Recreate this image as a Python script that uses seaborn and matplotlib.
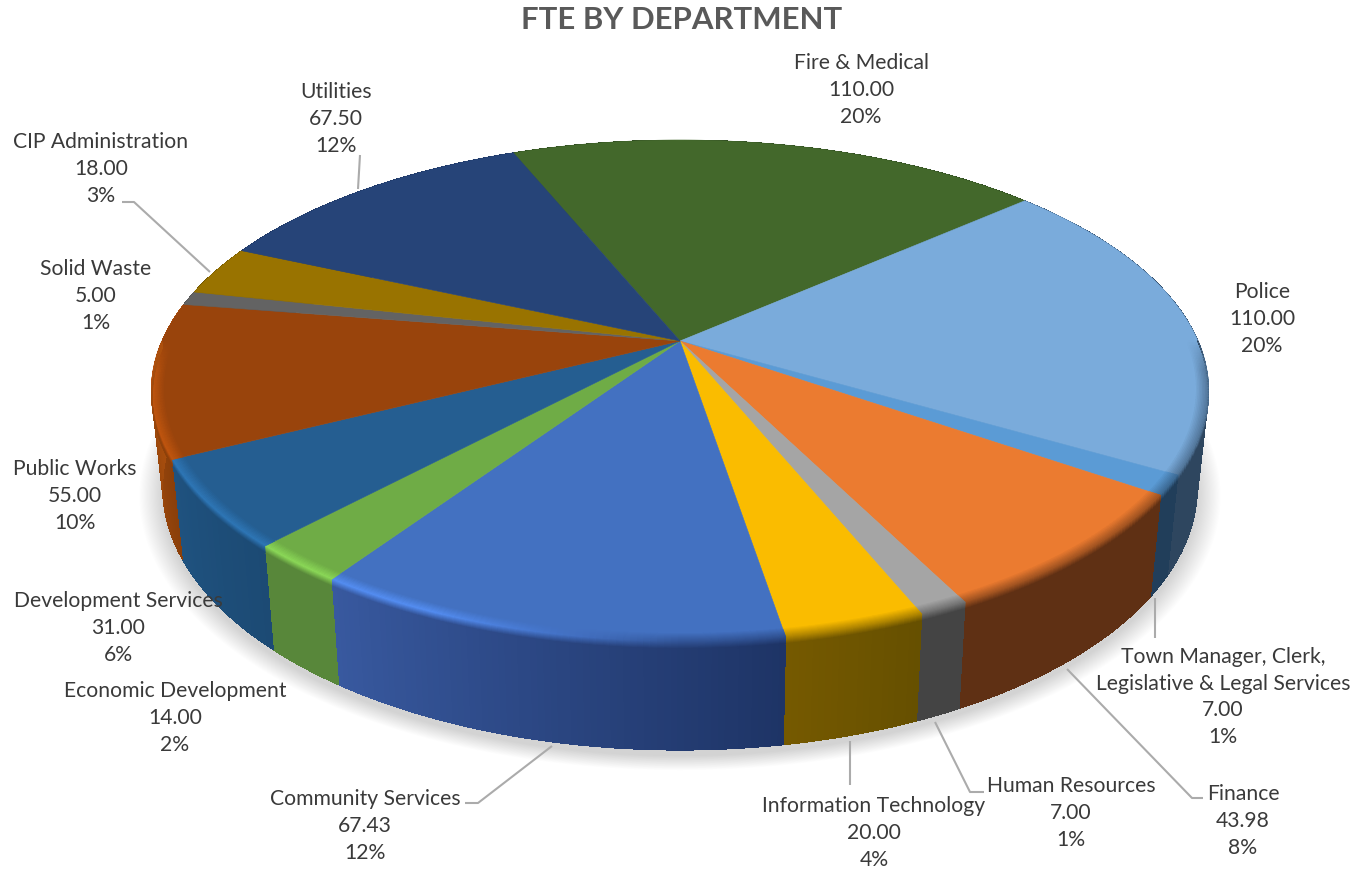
import numpy as np
import matplotlib
matplotlib.use("Agg")
import matplotlib.pyplot as plt
from matplotlib.collections import PolyCollection
import seaborn as sns

# ---------- data ----------
departments = ["Fire & Medical", "Police", "Town Manager, Clerk,\nLegislative & Legal Services",
               "Finance", "Human Resources", "Information Technology", "Community Services",
               "Economic Development", "Development Services", "Public Works", "Solid Waste",
               "CIP Administration", "Utilities"]
fte = [110.00, 110.00, 7.00, 43.98, 7.00, 20.00, 67.43, 14.00, 31.00, 55.00, 5.00, 18.00, 67.50]
percent = ["20%", "20%", "1%", "8%", "1%", "4%", "12%", "2%", "6%", "10%", "1%", "3%", "12%"]

# ---------- styles ----------
top_colors = ["#43682B", "#7AABDB", "#5B9BD5", "#EB7B30", "#A5A5A5", "#FABC00", "#4371C1",
              "#6FAC46", "#255E91", "#99440C", "#636363", "#997300", "#264478"]
wall_start = ["#2A4220", "#2E465F", "#213E5A", "#5F3014", "#444444", "#665000", "#1E3466",
              "#58873A", "#1C4A74", "#8A3F0A", "#555555", "#6E5500", "#1E3560"]
wall_end = ["#2A4220", "#2E465F", "#213E5A", "#5F3014", "#444444", "#755900", "#38599F",
            "#58873A", "#1F527F", "#B8560F", "#555555", "#6E5500", "#1E3560"]
label_pos = [(861, 90), (1262, 319), (1223, 697), (1243, 821), (1071, 813), (874, 833),
             (365, 826), (175, 718), (118, 628), (75, 496), (96, 296), (101, 169), (336, 119)]
leaders = [[(360, 155), (358, 189)],
           [(122, 202), (134, 202), (210, 272)],
           [(1155, 598), (1155, 638)],
           [(1067, 669), (1192, 798), (1203, 798)],
           [(935, 722), (970, 792), (984, 792)],
           [(850, 741), (850, 785)],
           [(552, 746), (478, 803), (465, 803)]]
START = -22.4       # first slice, degrees clockwise from 12 o'clock
CX, K = 680.0, 0.199
R_TOP, CY_TOP, H_TOP = 518.0, 341.0, 241.0
R_BOT, CY_BOT, H_BOT = 507.0, 435.5, 252.0

sns.set_theme(style="white")
plt.rcParams["font.family"] = ["Lato", "DejaVu Sans"]

fig = plt.figure(figsize=(13.65, 8.71), dpi=100, facecolor="white")
ax = fig.add_axes([0, 0, 1, 1])
ax.set_xlim(0, 1365)
ax.set_ylim(871, 0)
ax.axis("off")


def project(theta, r=1.0, R=R_TOP, cy=CY_TOP, H=H_TOP):
    """Perspective view of a point on the disc; theta in degrees clockwise from top."""
    t = np.radians(theta)
    u, v = r * np.sin(t), -r * np.cos(t)
    d = 1 - K * v
    return np.column_stack([CX + R * u / d, cy + H * v / d])


def to_rgb(c):
    return np.array(matplotlib.colors.to_rgb(c))


shares = np.array(fte) / np.sum(fte) * 360
edges = START + np.concatenate([[0], np.cumsum(shares)])

# soft shadow under the pie
circle = np.linspace(0, 360, 361)
for s in np.linspace(1.045, 1.0, 22):
    ax.fill(*project(circle, R=R_BOT * s, cy=CY_BOT + 6, H=H_BOT * s).T,
            color="#000000", alpha=0.0085, lw=0, zorder=1)

# walls, with a shade running along each slice
quads, quad_cols = [], []
for i in range(len(fte)):
    n = max(2, int(shares[i] / 0.6))
    th = np.linspace(edges[i], edges[i + 1], n + 1)
    a, b = project(th), project(th, R=R_BOT, cy=CY_BOT, H=H_BOT)
    c0, c1 = to_rgb(wall_start[i]), to_rgb(wall_end[i])
    ax.fill(*np.vstack([a, b[::-1]]).T, color=(c0 + c1) / 2, lw=0, zorder=2)
    for j in range(n):
        quads.append([a[j], a[j + 1], b[j + 1], b[j]])
        quad_cols.append(c0 + (c1 - c0) * j / max(n - 1, 1))
ax.add_collection(PolyCollection(quads, facecolors=quad_cols, edgecolors="none", antialiaseds=False, zorder=2.5))

# top face
for i in range(len(fte)):
    th = np.linspace(edges[i], edges[i + 1], max(3, int(shares[i] * 2)))
    pts = np.vstack([[CX, CY_TOP], project(th)])
    ax.fill(*pts.T, color=top_colors[i], lw=0.4, ec=top_colors[i], zorder=3)

# bevel between top face and wall, front half only
quads, quad_cols = [], []
rows_r = np.linspace(0.978, 1.0, 9)
rows_d = np.linspace(0.0, 0.07, 9)[1:]
steps_in = np.linspace(0, 1, 9)[1:]
for i in range(len(fte)):
    n = max(2, int(shares[i] / 0.6))
    th = np.linspace(edges[i], edges[i + 1], n + 1)
    top = to_rgb(top_colors[i])
    w0, w1 = to_rgb(wall_start[i]), to_rgb(wall_end[i])
    rows = [project(th, r) for r in rows_r]
    rim, low = project(th), project(th, R=R_BOT, cy=CY_BOT, H=H_BOT)
    rows += [rim + (low - rim) * d for d in rows_d]
    bright = np.clip(top * 1.25, 0, 1)
    for j in range(n):
        mid = np.radians((th[j] + th[j + 1]) / 2)
        front = np.clip(-np.cos(mid) / 0.12, 0, 1)
        if front == 0:
            continue
        lit = np.clip(-np.sin(mid) * 2.5, 0, 1)
        wall = w0 + (w1 - w0) * j / max(n - 1, 1)
        peak = (top + wall) / 2 + (bright - (top + wall) / 2) * lit
        prof = [top + (peak - top) * q for q in steps_in] + [peak + (wall - peak) * q for q in steps_in]
        for k in range(len(prof)):
            base = top if k < 8 else wall
            col = base + (prof[k] - base) * front
            quads.append([rows[k][j], rows[k][j + 1], rows[k + 1][j + 1], rows[k + 1][j]])
            quad_cols.append(col)
ax.add_collection(PolyCollection(quads, facecolors=quad_cols, edgecolors=quad_cols, linewidths=0.6, zorder=4))

# leader lines
for line in leaders:
    ax.plot(*np.array(line).T, color="#ABABAB", lw=1.5, solid_capstyle="butt", zorder=5)

# labels
for i, (x, y) in enumerate(label_pos):
    ax.text(x, y, f"{departments[i]}\n{fte[i]:.2f}\n{percent[i]}", ha="center", va="center",
            multialignment="center", fontsize=15.2, color="#3A3A3A", linespacing=1.42, zorder=6)

ax.text(682, 20, "FTE BY DEPARTMENT", ha="center", va="center", fontsize=22.4,
        fontweight="bold", color="#595959", zorder=6)

fig.savefig("out.png", dpi=100)
